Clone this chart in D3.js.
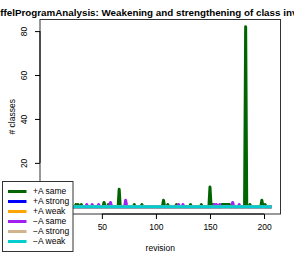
<!DOCTYPE html>
<html>
<head>
<meta charset="utf-8">
<script src="https://cdn.jsdelivr.net/npm/d3@7"></script>
<style>
  body { margin: 0; background: #fff; }
  svg { font-family: "Liberation Sans", Arial, sans-serif; display: block; }
</style>
</head>
<body>
<div id="chart"></div>
<script>
// revisions run from 1 to 207; values not listed are 0
const firstRevision = 1;
const lastRevision = 207;

const seriesNames = ["+A same", "+A strong", "+A weak", "\u2212A same", "\u2212A strong", "\u2212A weak"];
const seriesColors = ["#006400", "#0000ff", "#ffa500", "#a020f0", "#d2b48c", "#00cdcd"];

// [revision, # classes] for the non-zero points
const plusSame = [[26, 1], [28, 1], [31, 1], [52, 2], [56, 1], [66, 8], [80, 1], [87, 1],
    [107, 3], [111, 1], [119, 1], [132, 1], [142, 1], [150, 9], [153, 1],
    [161, 1], [162, 1], [163, 1], [164, 1], [165, 1], [166, 1], [167, 1], [168, 1],
    [183, 82], [187, 1], [198, 3], [201, 1]];
const plusStrong = [];
const plusWeak = [];
const minusSame = [[36, 1], [41, 1], [47, 1], [58, 2], [72, 3], [121, 1], [125, 1],
    [154, 1], [156, 1], [159, 1], [171, 2], [177, 1]];
const minusStrong = [];
const minusWeak = [];

// the 0 ticks sit under the legend in the picture
const xTicks = [50, 100, 150, 200];
const yTicks = [20, 40, 60, 80];

const width = 294, height = 254;
const plot = { left: 40, right: 280.5, top: 19.5, bottom: 214 };

const sparse = [plusSame, plusStrong, plusWeak, minusSame, minusStrong, minusWeak];
const revisions = d3.range(firstRevision, lastRevision + 1);
const series = sparse.map((pts, i) => {
    const m = new Map(pts);
    return { name: seriesNames[i], color: seriesColors[i],
             values: revisions.map(r => [r, m.get(r) || 0]) };
});

const yMax = d3.max(series, s => d3.max(s.values, d => d[1]));
const xPad = (lastRevision - firstRevision) * 0.04, yPad = yMax * 0.04;

const x = d3.scaleLinear().domain([firstRevision - xPad, lastRevision + xPad]).range([plot.left, plot.right]);
const y = d3.scaleLinear().domain([-yPad, yMax + yPad]).range([plot.bottom, plot.top]);

const svg = d3.select("#chart").append("svg")
    .attr("width", width)
    .attr("height", height);

// Title
svg.append("text")
    .attr("x", (plot.left + plot.right) / 2)
    .attr("y", 16)
    .attr("text-anchor", "middle")
    .style("font-size", "9.8px")
    .style("font-weight", "bold")
    .text("EiffelProgramAnalysis: Weakening and strengthening of class invariants");

// Lines
const line = d3.line().x(d => x(d[0])).y(d => y(d[1]));
svg.selectAll(".series")
    .data(series)
    .enter()
    .append("path")
    .attr("class", "series")
    .attr("d", d => line(d.values))
    .attr("fill", "none")
    .attr("stroke", d => d.color)
    .attr("stroke-width", 3)
    .attr("stroke-linejoin", "round");

// Box
svg.append("rect")
    .attr("x", plot.left)
    .attr("y", plot.top)
    .attr("width", plot.right - plot.left)
    .attr("height", plot.bottom - plot.top)
    .attr("fill", "none")
    .attr("stroke", "#333")
    .attr("stroke-width", 1);

// Axes
svg.append("g")
    .attr("transform", `translate(0,${plot.bottom})`)
    .call(d3.axisBottom(x).tickValues(xTicks).tickSize(5).tickPadding(5))
    .call(g => g.select(".domain").attr("d", `M${x(xTicks[0])},0H${x(xTicks[xTicks.length - 1])}`))
    .call(g => g.selectAll("text").style("font-size", "8.5px").attr("fill", "#000"));

svg.append("g")
    .attr("transform", `translate(${plot.left},0)`)
    .call(d3.axisLeft(y).tickValues(yTicks).tickSize(5))
    .call(g => g.select(".domain").attr("d", `M0,${y(yTicks[0])}V${y(yTicks[yTicks.length - 1])}`))
    .call(g => g.selectAll("text")
        .style("font-size", "8.5px")
        .attr("fill", "#000")
        .attr("x", 0)
        .attr("y", -13)
        .attr("dy", 0)
        .attr("text-anchor", "middle")
        .attr("transform", "rotate(-90)"));

// Axis labels
svg.append("text")
    .attr("x", (plot.left + plot.right) / 2)
    .attr("y", 251)
    .attr("text-anchor", "middle")
    .style("font-size", "8.5px")
    .text("revision");

svg.append("text")
    .attr("transform", `translate(15,${(plot.top + plot.bottom) / 2}) rotate(-90)`)
    .attr("text-anchor", "middle")
    .style("font-size", "8.5px")
    .text("# classes");

// Legend
const legend = svg.append("g").attr("transform", "translate(2.5,181.5)");
legend.append("rect")
    .attr("width", 70.5)
    .attr("height", 70)
    .attr("fill", "#fff")
    .attr("stroke", "#333");

const item = legend.selectAll(".item")
    .data(series)
    .enter()
    .append("g")
    .attr("class", "item")
    .attr("transform", (d, i) => `translate(0,${10 + i * 10})`);

item.append("line")
    .attr("x1", 5.5).attr("x2", 24)
    .attr("stroke", d => d.color)
    .attr("stroke-width", 3);

item.append("text")
    .attr("x", 30.5)
    .attr("dy", "0.35em")
    .style("font-size", "8.5px")
    .text(d => d.name);
</script>
</body>
</html>
